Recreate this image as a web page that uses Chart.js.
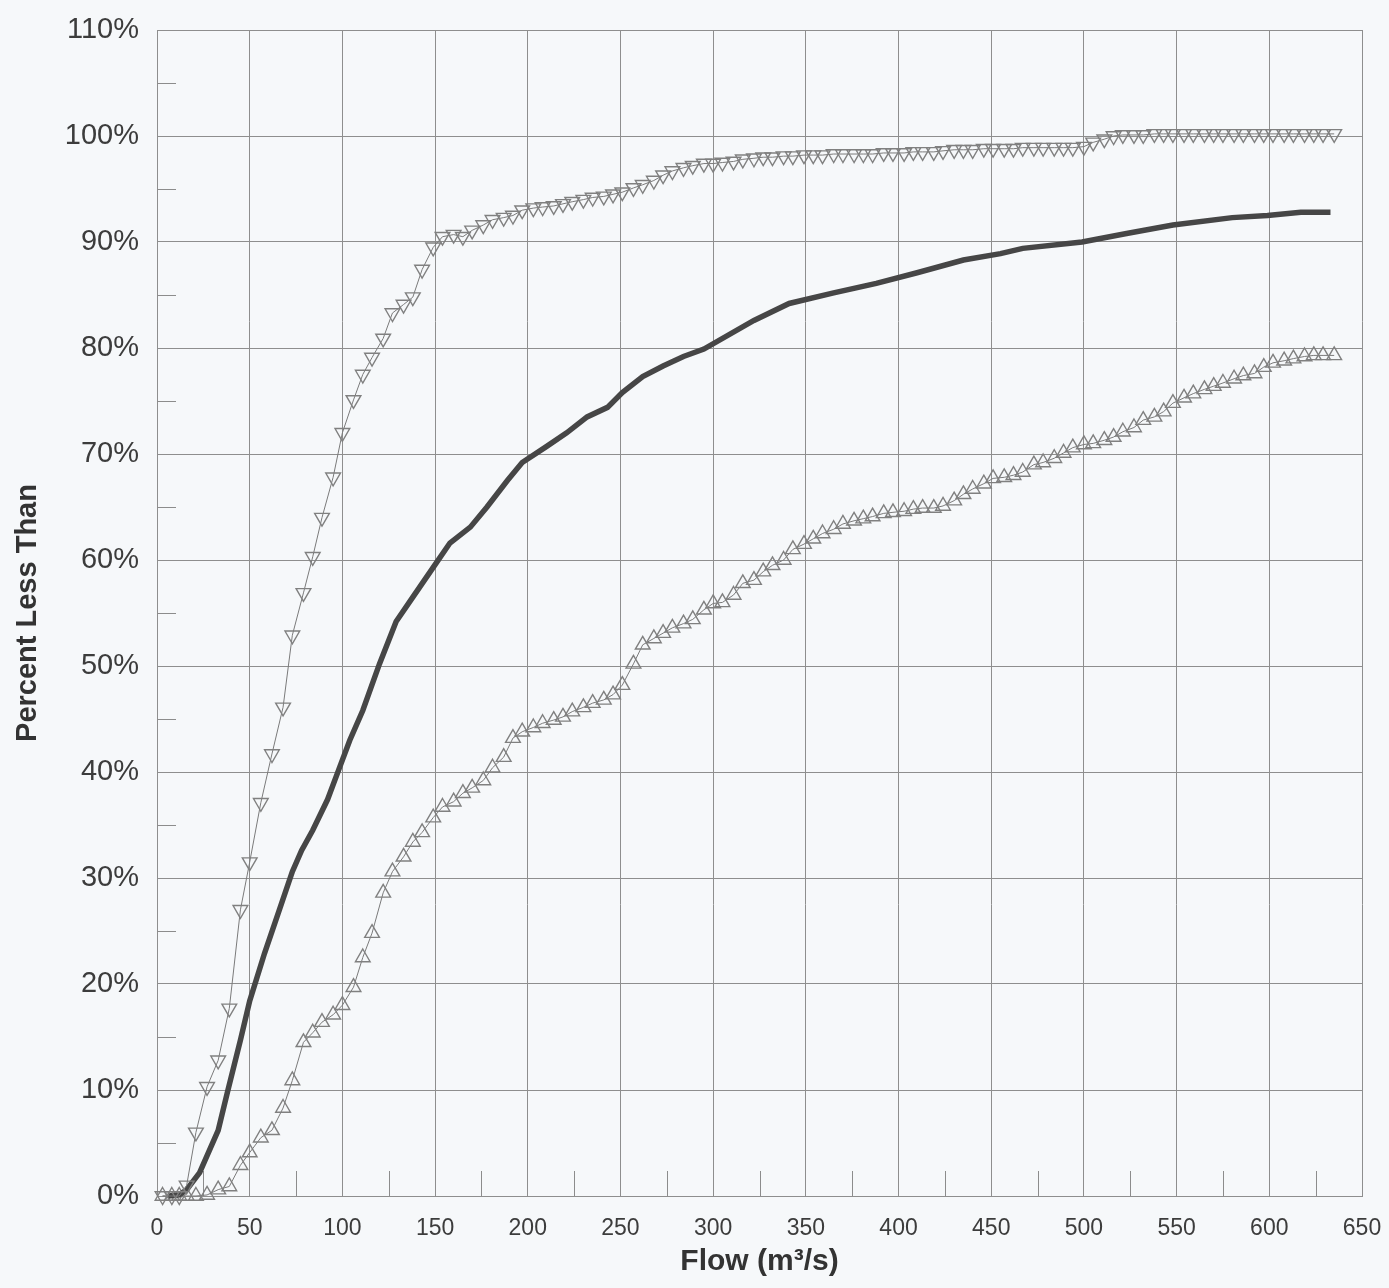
<!DOCTYPE html>
<html>
<head>
<meta charset="utf-8">
<script src="https://cdn.jsdelivr.net/npm/chart.js@4.4.1/dist/chart.umd.min.js"></script>
<style>
  html, body { margin: 0; padding: 0; background: #f6f8fa; }
  #wrap { width: 1389px; height: 1288px; position: relative; }
</style>
</head>
<body>
<div id="wrap"><canvas id="flowChart"></canvas></div>
<script>
// flow values (m3/s) where the triangle markers sit
const markerFlow = [
  3, 8, 12, 16, 21, 27, 33, 39, 45, 50,
  56, 62, 68, 73, 79, 84, 89, 95, 100, 106,
  111, 116, 122, 127, 133, 138, 143, 149, 154, 160,
  165, 170, 176, 181, 187, 192, 197, 203, 208, 214,
  219, 224, 230, 235, 241, 246, 251, 257, 262, 268,
  273, 278, 284, 289, 295, 300, 305, 311, 316, 322,
  327, 332, 338, 343, 349, 354, 359, 365, 370, 376,
  381, 386, 392, 397, 403, 408, 413, 419, 424, 430,
  435, 440, 446, 451, 457, 462, 467, 473, 478, 484,
  489, 494, 500, 505, 511, 516, 521, 527, 532, 538,
  543, 548, 554, 559, 565, 570, 575, 581, 586, 592,
  597, 602, 608, 613, 619, 624, 629, 635
];

// upper curve (down triangles), percent less than
const upperPct = [
  0, 0, 0, 1.0, 6.0, 10.3, 12.8, 17.7, 27.0, 31.5,
  37.1, 41.7, 46.1, 52.9, 56.9, 60.3, 64.0, 67.8, 72.0, 75.1,
  77.5, 79.1, 80.9, 83.3, 84.1, 84.8, 87.4, 89.5, 90.5, 90.7,
  90.5, 91.1, 91.6, 92.1, 92.3, 92.5, 93.0, 93.2, 93.3, 93.4,
  93.6, 93.8, 94.0, 94.2, 94.3, 94.5, 94.7, 95.1, 95.4, 95.8,
  96.3, 96.7, 97.0, 97.2, 97.4, 97.4, 97.5, 97.6, 97.8, 97.9,
  98.0, 98.0, 98.1, 98.1, 98.2, 98.2, 98.2, 98.3, 98.3, 98.3,
  98.3, 98.3, 98.4, 98.4, 98.4, 98.5, 98.5, 98.5, 98.6, 98.7,
  98.7, 98.7, 98.8, 98.8, 98.8, 98.8, 98.9, 98.9, 98.9, 98.9,
  98.9, 98.9, 99.0, 99.4, 99.7, 100.0, 100.1, 100.1, 100.1, 100.2,
  100.2, 100.2, 100.2, 100.2, 100.2, 100.2, 100.2, 100.2, 100.2, 100.2,
  100.2, 100.2, 100.2, 100.2, 100.2, 100.2, 100.2, 100.2
];

// lower curve (up triangles), percent less than
const lowerPct = [
  0, 0, 0, 0, 0, 0.1, 0.6, 0.9, 2.9, 4.1,
  5.5, 6.2, 8.3, 10.9, 14.5, 15.4, 16.4, 17.1, 18.0, 19.7,
  22.5, 24.8, 28.6, 30.6, 32.0, 33.4, 34.3, 35.7, 36.7, 37.2,
  38.0, 38.5, 39.2, 40.4, 41.4, 43.2, 43.8, 44.2, 44.6, 44.9,
  45.2, 45.7, 46.1, 46.5, 46.8, 47.3, 48.2, 50.2, 52.0, 52.6,
  53.1, 53.6, 54.0, 54.4, 55.3, 55.9, 56.0, 56.7, 57.8, 58.1,
  58.9, 59.5, 60.0, 61.0, 61.5, 62.0, 62.5, 62.9, 63.4, 63.7,
  63.9, 64.1, 64.4, 64.5, 64.6, 64.8, 64.9, 64.9, 65.1, 65.6,
  66.2, 66.7, 67.2, 67.7, 67.8, 68.0, 68.3, 69.0, 69.2, 69.6,
  70.1, 70.6, 70.9, 71.0, 71.3, 71.6, 72.1, 72.5, 73.2, 73.5,
  74.0, 74.8, 75.3, 75.7, 76.1, 76.4, 76.7, 77.1, 77.4, 77.6,
  78.2, 78.6, 78.8, 79.0, 79.2, 79.3, 79.3, 79.3
];

// middle thick curve
const medianFlow = [
  6, 12, 16, 23, 33, 38, 45, 50, 58, 66,
  73, 78, 84, 92, 98, 104, 111, 120, 129, 138,
  149, 158, 169, 178, 189, 197, 210, 221, 232, 243,
  251, 262, 273, 284, 295, 322, 341, 365, 388, 410,
  435, 455, 467, 499, 523, 548, 580, 599, 617, 633
];
const medianPct = [
  0, 0.1, 0.6, 2.2, 6.2, 9.8, 14.7, 18.4, 22.9, 27.0,
  30.6, 32.6, 34.5, 37.4, 40.2, 43.0, 45.8, 50.2, 54.2, 56.5,
  59.3, 61.6, 63.1, 65.0, 67.5, 69.2, 70.7, 72.0, 73.5, 74.4,
  75.8, 77.3, 78.3, 79.2, 79.9, 82.6, 84.2, 85.2, 86.1, 87.1,
  88.3, 88.9, 89.4, 90.0, 90.8, 91.6, 92.3, 92.5, 92.8, 92.8
];

const minorFlow = [25, 75, 125, 175, 225, 275, 325, 375, 425, 475, 525, 575, 625];
const minorPct = [5, 15, 25, 35, 45, 55, 65, 75, 85, 95, 105];

function pairs(xs, ys) {
  return xs.map((v, i) => ({ x: v, y: ys[i] }));
}

const minorTicks = {
  id: "minorTicks",
  beforeDatasetsDraw(chart) {
    const { ctx, scales } = chart;
    const x = scales.x, y = scales.y;
    ctx.save();
    ctx.strokeStyle = "#8c8c8c";
    ctx.lineWidth = 1;
    for (const v of minorFlow) {
      const px = Math.round(x.getPixelForValue(v)) + 0.5;
      ctx.beginPath();
      ctx.moveTo(px, y.bottom);
      ctx.lineTo(px, y.bottom - 25);
      ctx.stroke();
    }
    for (const v of minorPct) {
      const py = Math.round(y.getPixelForValue(v)) + 0.5;
      ctx.beginPath();
      ctx.moveTo(x.left, py);
      ctx.lineTo(x.left + 19, py);
      ctx.stroke();
    }
    ctx.restore();
  }
};

const markerStyle = {
  borderColor: "#7a7a7a",
  borderWidth: 1,
  pointStyle: "triangle",
  pointRadius: 8.5,
  pointBorderWidth: 1.4,
  pointBorderColor: "#808080",
  pointBackgroundColor: "rgba(0,0,0,0)",
  tension: 0,
  clip: false
};

new Chart(document.getElementById("flowChart"), {
  type: "line",
  data: {
    datasets: [
      Object.assign({ label: "Upper", data: pairs(markerFlow, upperPct), pointRotation: 180 }, markerStyle),
      {
        label: "Median",
        data: pairs(medianFlow, medianPct),
        borderColor: "#464646",
        borderWidth: 5.5,
        pointRadius: 0,
        tension: 0,
        borderCapStyle: "butt",
        clip: false
      },
      Object.assign({ label: "Lower", data: pairs(markerFlow, lowerPct), pointRotation: 0 }, markerStyle)
    ]
  },
  options: {
    responsive: true,
    maintainAspectRatio: false,
    animation: false,
    layout: { padding: { top: 30, right: 27, left: 0, bottom: 0 } },
    plugins: { legend: { display: false }, tooltip: { enabled: false } },
    scales: {
      x: {
        type: "linear",
        min: 0,
        max: 650,
        afterFit: (axis) => {
          axis.height = 92;
          axis.paddingLeft = 0;
          axis.paddingRight = 0;
        },
        ticks: {
          stepSize: 50,
          padding: 19,
          color: "#3c3c3c",
          font: { family: "Liberation Sans, Arial, sans-serif", size: 23 }
        },
        grid: { color: "#8e8e8e", lineWidth: 1, drawTicks: false },
        border: { color: "#8e8e8e", width: 1 },
        title: {
          display: true,
          text: "Flow (m³/s)",
          color: "#333",
          padding: { top: 2, bottom: 8 },
          font: { family: "Liberation Sans, Arial, sans-serif", size: 30, weight: "bold" }
        }
      },
      y: {
        min: 0,
        max: 110,
        afterFit: (axis) => {
          axis.width = 157;
          axis.paddingTop = 0;
          axis.paddingBottom = 0;
        },
        ticks: {
          stepSize: 10,
          padding: 18,
          color: "#3c3c3c",
          font: { family: "Liberation Sans, Arial, sans-serif", size: 29 },
          callback: (v) => v + "%"
        },
        grid: { color: "#8e8e8e", lineWidth: 1, drawTicks: false },
        border: { color: "#8e8e8e", width: 1 },
        title: {
          display: true,
          text: "Percent Less Than",
          color: "#333",
          padding: { top: 11, bottom: 0 },
          font: { family: "Liberation Sans, Arial, sans-serif", size: 29, weight: "bold" }
        }
      }
    }
  },
  plugins: [minorTicks]
});
</script>
</body>
</html>
